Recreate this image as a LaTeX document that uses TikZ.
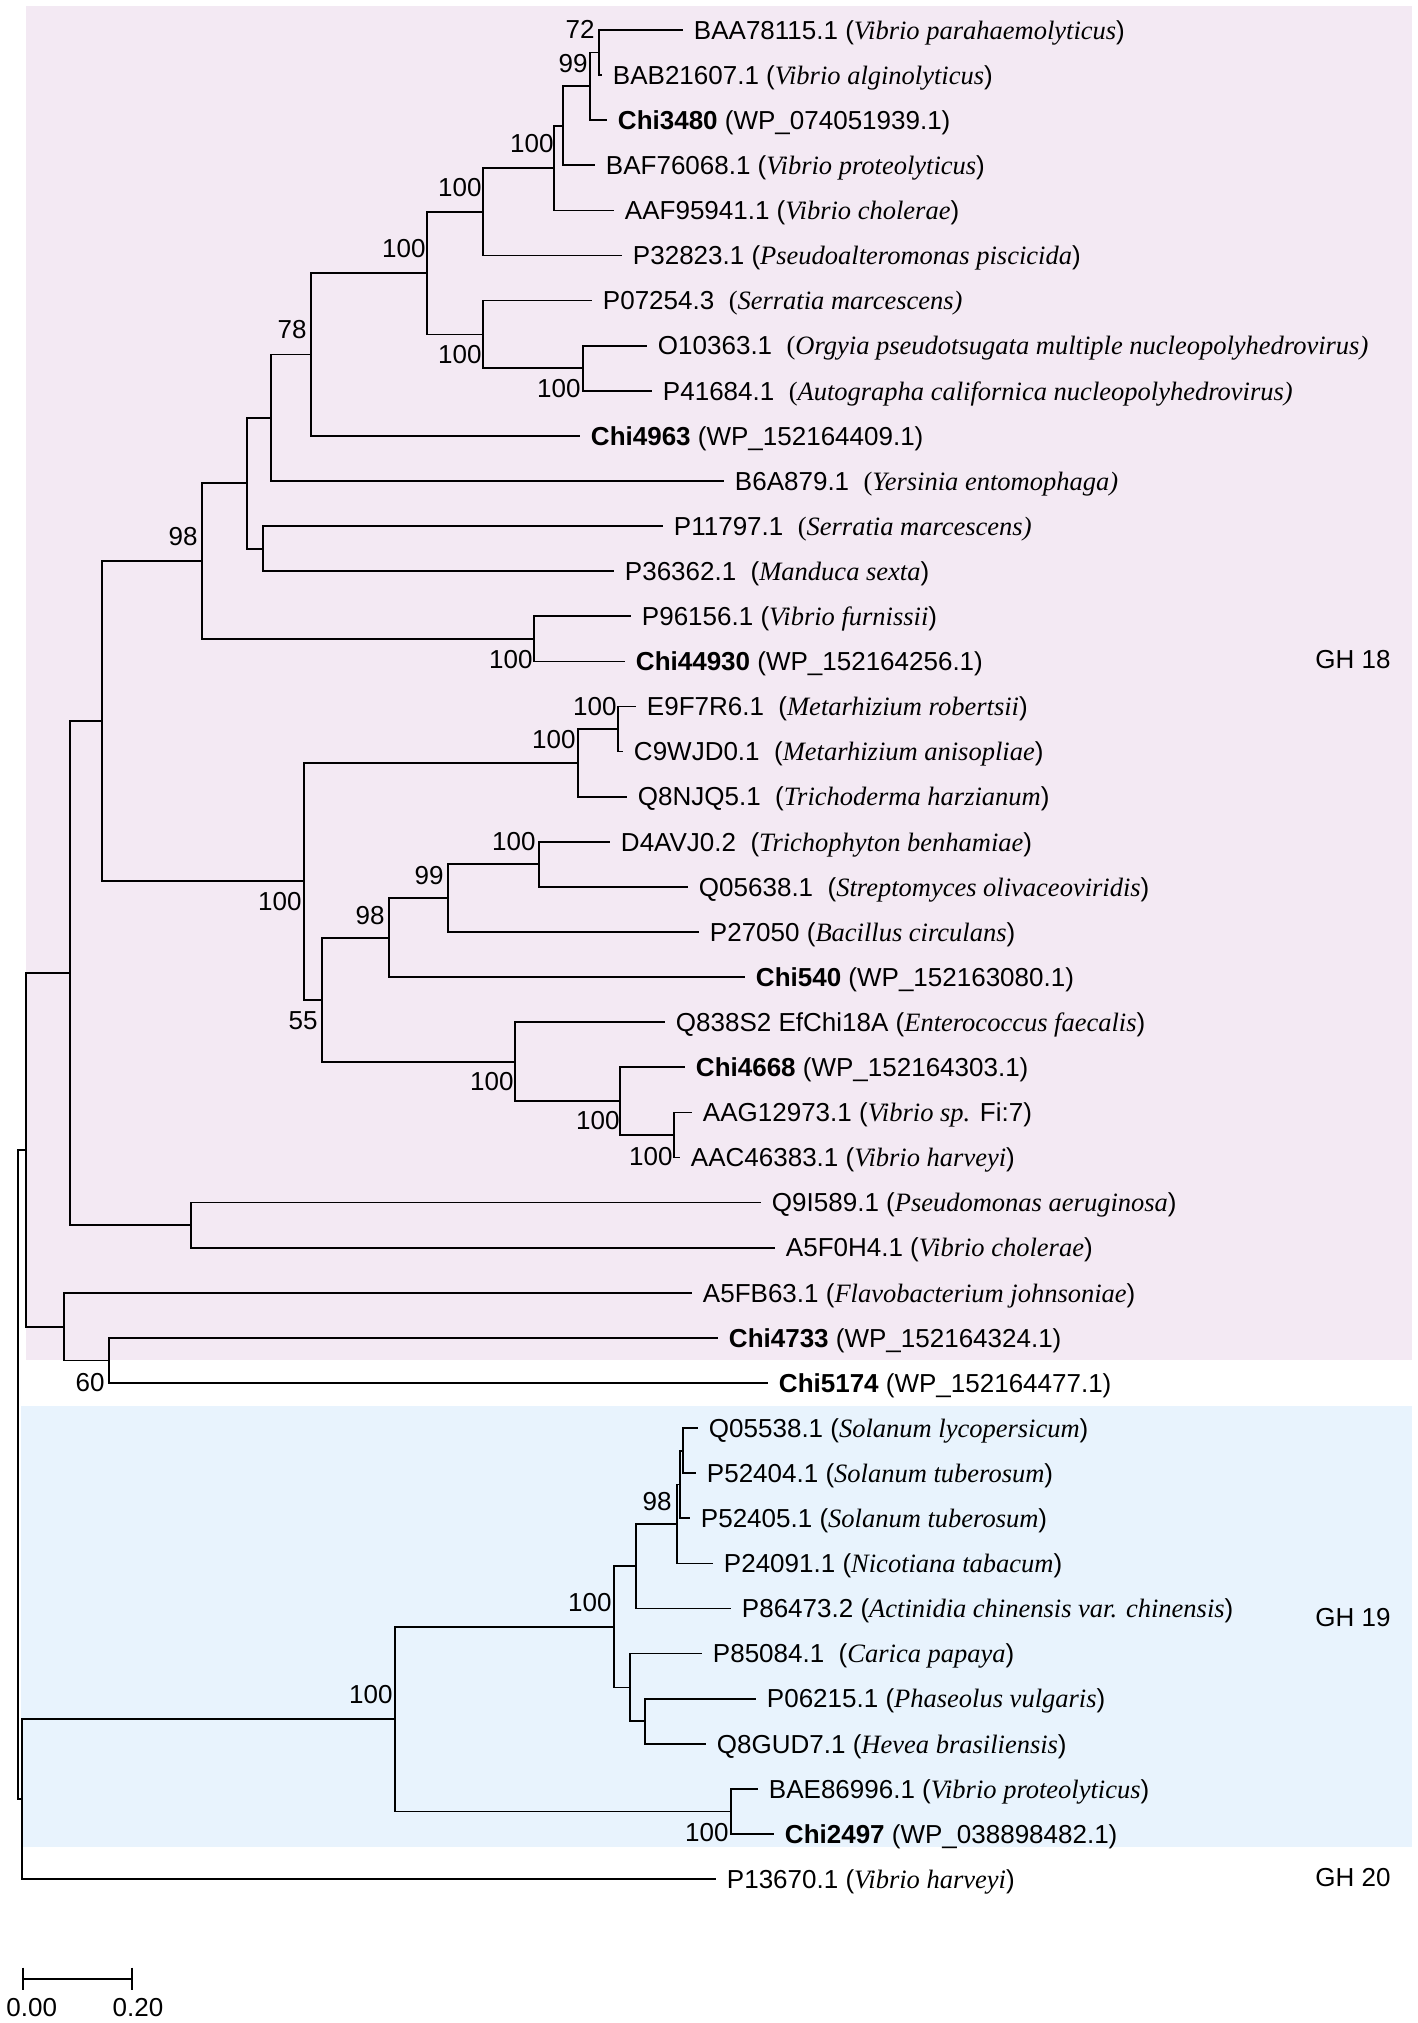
\documentclass[tikz,border=0pt]{standalone}
\usepackage{fontspec}
\setmainfont{Liberation Sans}
\newfontfamily\spfont{Liberation Serif}
\definecolor{ghpink}{RGB}{243,233,243}
\definecolor{ghblue}{RGB}{232,243,253}
\newcommand{\spc}[1]{({\spfont\itshape\fontsize{10.6}{12}\selectfont #1})}
\newcommand{\spt}[1]{{\spfont\fontsize{10.6}{12}\selectfont(\itshape #1)}}

\begin{document}
\begin{tikzpicture}[x=0.4pt, y=-18.04pt,
  branch/.style={line width=0.7pt},
  taxon/.style={anchor=west, inner xsep=4.2pt, inner ysep=0pt, text height=7.4pt, text depth=0pt, font=\fontsize{10.4}{12}\selectfont},
  boot/.style={anchor=east, inner sep=0pt, text height=7.4pt, text depth=0pt, font=\fontsize{10.4}{12}\selectfont},
  scalelab/.style={boot, anchor=center}]
\useasboundingbox (0,0.3348) rectangle (1418,45.191);

% Family shading
\fill[ghpink] (26,0.468) rectangle (1412,30.5);
\fill[ghblue] (20.7,31.51) rectangle (1412,41.28);

% Taxa
\node[taxon] (BAA78115) at (683,1) {BAA78115.1 \spc{Vibrio parahaemolyticus}};
\node[taxon] (BAB21607) at (602,2) {BAB21607.1 \spc{Vibrio alginolyticus}};
\node[taxon] (Chi3480) at (607,3) {\textbf{Chi3480} (WP\_074051939.1)};
\node[taxon] (BAF76068) at (595,4) {BAF76068.1 \spc{Vibrio proteolyticus}};
\node[taxon] (AAF95941) at (614,5) {AAF95941.1 \spc{Vibrio cholerae}};
\node[taxon] (P32823) at (622,6) {P32823.1 \spc{Pseudoalteromonas piscicida}};
\node[taxon] (P07254) at (592,7) {P07254.3\ \ \spt{Serratia marcescens}};
\node[taxon] (O10363) at (647,8) {O10363.1\ \ \spt{Orgyia pseudotsugata multiple nucleopolyhedrovirus}};
\node[taxon] (P41684) at (652,9) {P41684.1\ \ \spt{Autographa californica nucleopolyhedrovirus}};
\node[taxon] (Chi4963) at (580,10) {\textbf{Chi4963} (WP\_152164409.1)};
\node[taxon] (B6A879) at (724,11) {B6A879.1\ \ \spt{Yersinia entomophaga}};
\node[taxon] (P11797) at (663,12) {P11797.1\ \ \spt{Serratia marcescens}};
\node[taxon] (P36362) at (614,13) {P36362.1\ \ \spc{Manduca sexta}};
\node[taxon] (P96156) at (631,14) {P96156.1 \spc{Vibrio furnissii}};
\node[taxon] (Chi44930) at (625,15) {\textbf{Chi44930} (WP\_152164256.1)};
\node[taxon] (E9F7R6) at (636,16) {E9F7R6.1\ \ \spc{Metarhizium robertsii}};
\node[taxon] (C9WJD0) at (623,17) {C9WJD0.1\ \ \spc{Metarhizium anisopliae}};
\node[taxon] (Q8NJQ5) at (627,18) {Q8NJQ5.1\ \ \spc{Trichoderma harzianum}};
\node[taxon] (D4AVJ0) at (610,19) {D4AVJ0.2\ \ \spc{Trichophyton benhamiae}};
\node[taxon] (Q05638) at (688,20) {Q05638.1\ \ \spc{Streptomyces olivaceoviridis}};
\node[taxon] (P27050) at (699,21) {P27050 \spc{Bacillus circulans}};
\node[taxon] (Chi540) at (745,22) {\textbf{Chi540} (WP\_152163080.1)};
\node[taxon] (Q838S2) at (665,23) {Q838S2 EfChi18A \spc{Enterococcus faecalis}};
\node[taxon] (Chi4668) at (685,24) {\textbf{Chi4668} (WP\_152164303.1)};
\node[taxon] (AAG12973) at (692,25) {AAG12973.1 ({\spfont\itshape\fontsize{10.6}{12}\selectfont Vibrio sp.} Fi:7)};
\node[taxon] (AAC46383) at (680,26) {AAC46383.1 \spc{Vibrio harveyi}};
\node[taxon] (Q9I589) at (761,27) {Q9I589.1 \spc{Pseudomonas aeruginosa}};
\node[taxon] (A5F0H4) at (775,28) {A5F0H4.1 \spc{Vibrio cholerae}};
\node[taxon] (A5FB63) at (692,29) {A5FB63.1 \spc{Flavobacterium johnsoniae}};
\node[taxon] (Chi4733) at (718,30) {\textbf{Chi4733} (WP\_152164324.1)};
\node[taxon] (Chi5174) at (768,31) {\textbf{Chi5174} (WP\_152164477.1)};
\node[taxon] (Q05538) at (698,32) {Q05538.1 \spc{Solanum lycopersicum}};
\node[taxon] (P52404) at (696,33) {P52404.1 \spc{Solanum tuberosum}};
\node[taxon] (P52405) at (690,34) {P52405.1 \spc{Solanum tuberosum}};
\node[taxon] (P24091) at (713,35) {P24091.1 \spc{Nicotiana tabacum}};
\node[taxon] (P86473) at (731,36) {P86473.2 \spc{Actinidia chinensis var. chinensis}};
\node[taxon] (P85084) at (702,37) {P85084.1\ \ \spc{Carica papaya}};
\node[taxon] (P06215) at (756,38) {P06215.1 \spc{Phaseolus vulgaris}};
\node[taxon] (Q8GUD7) at (706,39) {Q8GUD7.1 \spc{Hevea brasiliensis}};
\node[taxon] (BAE86996) at (758,40) {BAE86996.1 \spc{Vibrio proteolyticus}};
\node[taxon] (Chi2497) at (774,41) {\textbf{Chi2497} (WP\_038898482.1)};
\node[taxon] (P13670) at (716,42) {P13670.1 \spc{Vibrio harveyi}};

% Internal nodes
\coordinate (c1) at (599,1.5);
\coordinate (c2) at (590,2.25);
\coordinate (c3) at (563,3.125);
\coordinate (c4) at (554,4.0625);
\coordinate (c5) at (483,5.031);
\coordinate (c6) at (583,8.5);
\coordinate (c7) at (483,7.75);
\coordinate (c8) at (427,6.391);
\coordinate (c9) at (311,8.195);
\coordinate (c10) at (271,9.598);
\coordinate (c11) at (263,12.5);
\coordinate (c12) at (247,11.049);
\coordinate (c13) at (534,14.5);
\coordinate (c14) at (202,12.775);
\coordinate (c15) at (618,16.5);
\coordinate (c16) at (578,17.25);
\coordinate (c17) at (539,19.5);
\coordinate (c18) at (448,20.25);
\coordinate (c19) at (389,21.125);
\coordinate (c20) at (674,25.5);
\coordinate (c21) at (620,24.75);
\coordinate (c22) at (515,23.875);
\coordinate (c23) at (322,22.5);
\coordinate (c24) at (304,19.875);
\coordinate (c25) at (102,16.325);
\coordinate (c26) at (191,27.5);
\coordinate (c27) at (70,21.913);
\coordinate (c28) at (109,30.5);
\coordinate (c29) at (64,29.75);
\coordinate (c30) at (26,25.831);
\coordinate (c31) at (683,32.5);
\coordinate (c32) at (680,33.25);
\coordinate (c33) at (677,34.125);
\coordinate (c34) at (636,35.063);
\coordinate (c35) at (645,38.5);
\coordinate (c36) at (630,37.75);
\coordinate (c37) at (614,36.406);
\coordinate (c38) at (731,40.5);
\coordinate (c39) at (395,38.453);
\coordinate (c40) at (22,40.227);
\coordinate (root) at (18,33.029);

% Branches, GH 18
\draw[branch] (c1) |- (BAA78115.west) (c1) |- (BAB21607.west);
\draw[branch] (c2) |- (c1) (c2) |- (Chi3480.west);
\draw[branch] (c3) |- (c2) (c3) |- (BAF76068.west);
\draw[branch] (c4) |- (c3) (c4) |- (AAF95941.west);
\draw[branch] (c5) |- (c4) (c5) |- (P32823.west);
\draw[branch] (c6) |- (O10363.west) (c6) |- (P41684.west);
\draw[branch] (c7) |- (P07254.west) (c7) |- (c6);
\draw[branch] (c8) |- (c5) (c8) |- (c7);
\draw[branch] (c9) |- (c8) (c9) |- (Chi4963.west);
\draw[branch] (c10) |- (c9) (c10) |- (B6A879.west);
\draw[branch] (c11) |- (P11797.west) (c11) |- (P36362.west);
\draw[branch] (c12) |- (c10) (c12) |- (c11);
\draw[branch] (c13) |- (P96156.west) (c13) |- (Chi44930.west);
\draw[branch] (c14) |- (c12) (c14) |- (c13);
\draw[branch] (c15) |- (E9F7R6.west) (c15) |- (C9WJD0.west);
\draw[branch] (c16) |- (c15) (c16) |- (Q8NJQ5.west);
\draw[branch] (c17) |- (D4AVJ0.west) (c17) |- (Q05638.west);
\draw[branch] (c18) |- (c17) (c18) |- (P27050.west);
\draw[branch] (c19) |- (c18) (c19) |- (Chi540.west);
\draw[branch] (c20) |- (AAG12973.west) (c20) |- (AAC46383.west);
\draw[branch] (c21) |- (Chi4668.west) (c21) |- (c20);
\draw[branch] (c22) |- (Q838S2.west) (c22) |- (c21);
\draw[branch] (c23) |- (c19) (c23) |- (c22);
\draw[branch] (c24) |- (c16) (c24) |- (c23);
\draw[branch] (c25) |- (c14) (c25) |- (c24);
\draw[branch] (c26) |- (Q9I589.west) (c26) |- (A5F0H4.west);
\draw[branch] (c27) |- (c25) (c27) |- (c26);
\draw[branch] (c28) |- (Chi4733.west) (c28) |- (Chi5174.west);
\draw[branch] (c29) |- (A5FB63.west) (c29) |- (c28);
\draw[branch] (c30) |- (c27) (c30) |- (c29);

% Branches, GH 19 and GH 20
\draw[branch] (c31) |- (Q05538.west) (c31) |- (P52404.west);
\draw[branch] (c32) |- (c31) (c32) |- (P52405.west);
\draw[branch] (c33) |- (c32) (c33) |- (P24091.west);
\draw[branch] (c34) |- (c33) (c34) |- (P86473.west);
\draw[branch] (c35) |- (P06215.west) (c35) |- (Q8GUD7.west);
\draw[branch] (c36) |- (P85084.west) (c36) |- (c35);
\draw[branch] (c37) |- (c34) (c37) |- (c36);
\draw[branch] (c38) |- (BAE86996.west) (c38) |- (Chi2497.west);
\draw[branch] (c39) |- (c37) (c39) |- (c38);
\draw[branch] (c40) |- (c39) (c40) |- (P13670.west);
\draw[branch] (root) |- (c30) (root) |- (c40);

% Bootstrap values
\node[boot] (b1) at (595,0.989) {72};
\node[boot] (b2) at (588,1.732) {99};
\node[boot] (b3) at (554,3.506) {100};
\node[boot] (b4) at (482,4.481) {100};
\node[boot] (b5) at (426,5.834) {100};
\node[boot] (b6) at (307,7.630) {78};
\node[boot] (b7) at (482,8.184) {100};
\node[boot] (b8) at (581,8.938) {100};
\node[boot] (b9) at (198,12.22) {98};
\node[boot] (b10) at (533,14.95) {100};
\node[boot] (b11) at (617,15.99) {100};
\node[boot] (b12) at (576,16.72) {100};
\node[boot] (b13) at (536,18.98) {100};
\node[boot] (b14) at (444,19.74) {99};
\node[boot] (b15) at (302,20.31) {100};
\node[boot] (b16) at (385,20.62) {98};
\node[boot] (b17) at (318,22.95) {55};
\node[boot] (b18) at (514,24.30) {100};
\node[boot] (b19) at (620,25.17) {100};
\node[boot] (b20) at (673,25.97) {100};
\node[boot] (b21) at (105,30.98) {60};
\node[boot] (b22) at (672,33.62) {98};
\node[boot] (b23) at (612,35.86) {100};
\node[boot] (b24) at (393,37.90) {100};
\node[boot] (b25) at (729,40.96) {100};

% Family labels
\node[boot] (gh18) at (1391,14.95) {GH 18};
\node[boot] (gh19) at (1391,36.2) {GH 19};
\node[boot] (gh20) at (1391,41.95) {GH 20};

% Scale bar
\coordinate (s0) at (22.7,44.21);
\coordinate (s1) at (131.7,44.21);
\draw[branch] (s0) -- (s1);
\draw[branch] ([yshift=4.5pt]s0) -- ([yshift=-4.5pt]s0);
\draw[branch] ([yshift=4.5pt]s1) -- ([yshift=-4.5pt]s1);
\node[scalelab] (sl0) at (31.8,44.85) {0.00};
\node[scalelab] (sl1) at (138,44.85) {0.20};
\end{tikzpicture}
\end{document}
